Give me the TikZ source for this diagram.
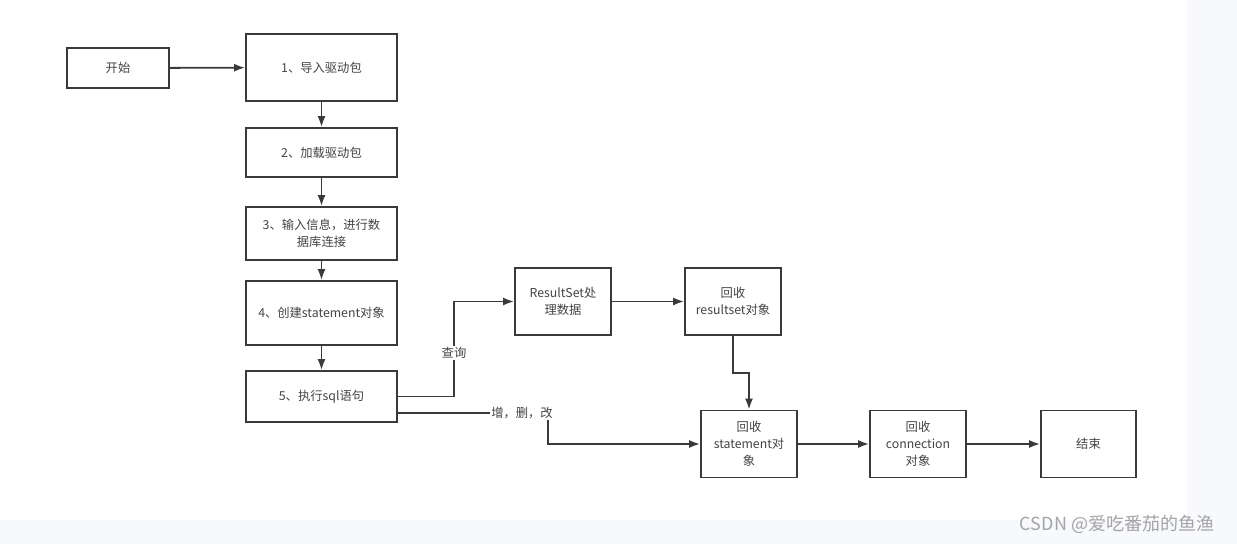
\documentclass[tikz,border=0pt]{standalone}
\usepackage{fontspec}
\setmainfont{Noto Sans CJK SC}
\usetikzlibrary{arrows.meta}
\definecolor{linegray}{HTML}{3A3A3A}
\definecolor{textgray}{HTML}{444444}
\definecolor{stripgray}{HTML}{F8F9FC}
\definecolor{markgray}{HTML}{A4A4A4}

\begin{document}
\begin{tikzpicture}[x=1pt, y=-1pt,
    box/.style={draw=linegray, line width=1.8pt, inner sep=0pt, align=center,
      text=textgray, font=\fontsize{12.3}{17}\selectfont},
    arr/.style={draw=linegray, line width=1.8pt, -{Latex[length=11pt,width=8pt]}},
    lbl/.style={fill=white, inner sep=1pt, text=textgray, font=\fontsize{12.3}{14}\selectfont}]

  % page and the strip below / right
  \fill[stripgray] (0,0) rectangle (1237,544);
  \fill[white] (0,0) rectangle (1187,520);
  \useasboundingbox (0,0) rectangle (1237,544);

  % left column
  \node[box, minimum width=102pt, minimum height=40pt] (start) at (118,68) {开始};
  \node[box, minimum width=151pt, minimum height=67pt] (s1) at (321.5,67.5) {1、导入驱动包};
  \node[box, minimum width=151pt, minimum height=49pt] (s2) at (321.5,152.5) {2、加载驱动包};
  \node[box, minimum width=151pt, minimum height=53pt] (s3) at (321.5,233.5) {3、输入信息，进行数\\据库连接};
  \node[box, minimum width=151pt, minimum height=64pt] (s4) at (321.5,313) {4、创建statement对象};
  \node[box, minimum width=151pt, minimum height=51pt] (s5) at (321.5,396.5) {5、执行sql语句};

  % result set branch
  \node[box, minimum width=96pt, minimum height=67pt] (rs) at (563,301.5) {ResultSet处\\理数据};
  \node[box, minimum width=96pt, minimum height=67pt] (rrs) at (733,301.5) {回收\\resultset对象};

  % closing row
  \node[box, minimum width=96pt, minimum height=67pt] (rst) at (749,444) {回收\\statement对\\象};
  \node[box, minimum width=96pt, minimum height=67pt] (rcon) at (918,444) {回收\\connection\\对象};
  \node[box, minimum width=95pt, minimum height=67pt] (stop) at (1088.5,444) {结束};

  \coordinate (q1) at (454,396.5);
  \coordinate (q2) at (454,301.5);
  \coordinate (u1) at (548,413);
  \coordinate (u2) at (548,444);
  \coordinate (k1) at (733,373);
  \coordinate (k2) at (749,373);

  \draw[arr] (start) -- (s1);
  \foreach \a/\b in {s1/s2,s2/s3,s3/s4,s4/s5}{
    \draw[arr] (\a) -- (\b);
  }

  \draw[arr] (s5.east) -- (q1) -- (q2) -- (rs.west);
  \node[lbl] (query) at (454,353) {查询};

  \draw[arr] (s5.east |- u1) -- (u1) -- (u2) -- (rst.west);
  \node[lbl] (modify) at (522,413) {增，删，改};

  \draw[arr] (rs) -- (rrs);
  \draw[arr] (rrs.south) -- (k1) -- (k2) -- (rst.north);
  \draw[arr] (rst) -- (rcon);
  \draw[arr] (rcon) -- (stop);

  \node[text=markgray, font=\fontsize{18}{20}\selectfont] (mark) at (1117,524) {CSDN @爱吃番茄的鱼渔};
\end{tikzpicture}
\end{document}
